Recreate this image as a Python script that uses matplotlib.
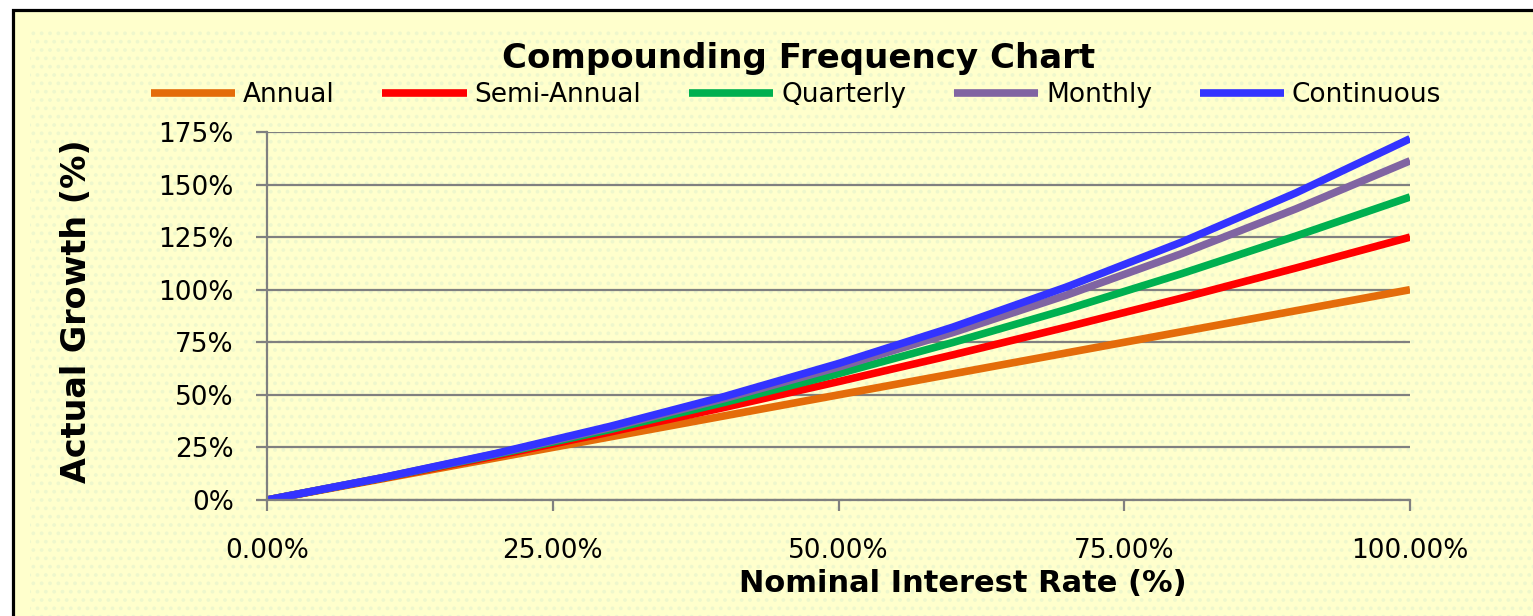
import matplotlib
matplotlib.use("Agg")
import matplotlib.pyplot as plt
from matplotlib.patches import Rectangle
from matplotlib.ticker import FuncFormatter

# nominal rate (fraction) and read-off actual growth for each compounding frequency
rates = [0.0, 0.1, 0.2, 0.3, 0.4, 0.5, 0.6, 0.7, 0.8, 0.9, 1.0]
annual = [0.0, 0.100, 0.200, 0.300, 0.400, 0.500, 0.600, 0.700, 0.800, 0.900, 1.000]
semi_annual = [0.0, 0.103, 0.210, 0.323, 0.440, 0.563, 0.690, 0.823, 0.960, 1.103, 1.250]
quarterly = [0.0, 0.104, 0.216, 0.335, 0.464, 0.601, 0.749, 0.907, 1.076, 1.255, 1.441]
monthly = [0.0, 0.105, 0.219, 0.344, 0.482, 0.632, 0.796, 0.975, 1.171, 1.384, 1.613]
continuous = [0.0, 0.105, 0.221, 0.350, 0.492, 0.649, 0.822, 1.014, 1.226, 1.460, 1.718]

series_names = ["Annual", "Semi-Annual", "Quarterly", "Monthly", "Continuous"]
series_values = [annual, semi_annual, quarterly, monthly, continuous]
series_colors = ["#E46C0A", "#FF0000", "#00B050", "#8064A2", "#3333FF"]

y_ticks = [0.0, 0.25, 0.5, 0.75, 1.0, 1.25, 1.5, 1.75]
x_ticks = [0.0, 0.25, 0.5, 0.75, 1.0]

W, H = 1533, 616
fig = plt.figure(figsize=(W / 100, H / 100), dpi=100)
fig.patch.set_facecolor("white")

# chart area background with black frame (runs off the right / bottom edge)
bg = Rectangle((13 / W, -0.1), 1.2, 1 - 10 / H + 0.1, transform=fig.transFigure,
               facecolor="#FFFFCC", edgecolor="black", linewidth=2.3, zorder=-10)
fig.patches.append(bg)
# faint dotted texture of the chart area
plt.rcParams["hatch.linewidth"] = 1.5
dots = Rectangle((30 / W, -0.1), 1.2, 1 - 30 / H + 0.1, transform=fig.transFigure,
                 facecolor="none", edgecolor="#EEF7CC", hatch="..", linewidth=0, zorder=-9)
fig.patches.append(dots)

ax = fig.add_axes([267 / W, 1 - 500 / H, (1410 - 267) / W, (500 - 132) / H])
ax.patch.set_alpha(0)

for name, vals, col in zip(series_names, series_values, series_colors):
    ax.plot(rates, vals, color=col, lw=5.5, label=name, solid_capstyle="butt")

ax.set_xlim(0, 1)
ax.set_ylim(0, 1.75)
ax.set_yticks(y_ticks)
ax.set_xticks(x_ticks)
ax.yaxis.set_major_formatter(FuncFormatter(lambda v, p: f"{v * 100:.0f}%"))
ax.xaxis.set_major_formatter(FuncFormatter(lambda v, p: f"{v * 100:.2f}%"))

ax.grid(axis="y", color="#808080", lw=1.6)
ax.set_axisbelow(True)
for s in ["top", "right"]:
    ax.spines[s].set_visible(False)
for s in ["left", "bottom"]:
    ax.spines[s].set_color("#808080")
    ax.spines[s].set_linewidth(1.6)
ax.tick_params(axis="y", length=8, width=1.6, color="#808080", pad=16, labelsize=19)
ax.tick_params(axis="x", length=8, width=1.6, color="#808080", pad=19, labelsize=19)

fig.text(799 / W, 1 - 68 / H, "Compounding Frequency Chart", ha="center", va="baseline",
         fontsize=24.5, fontweight="bold")
fig.text(963 / W, 1 - 584 / H, "Nominal Interest Rate (%)", ha="center", va="center",
         fontsize=22, fontweight="bold")
fig.text(77 / W, 1 - 311 / H, "Actual Growth (%)", ha="center", va="center",
         rotation=90, fontsize=24, fontweight="bold")

fig.legend(loc="center", bbox_to_anchor=(796 / W, 1 - 95 / H), ncol=5, frameon=False,
           fontsize=19, handlelength=3.2, handletextpad=0.3, columnspacing=1.8,
           borderpad=0, borderaxespad=0)

fig.savefig("out.png", dpi=100, facecolor="white")
